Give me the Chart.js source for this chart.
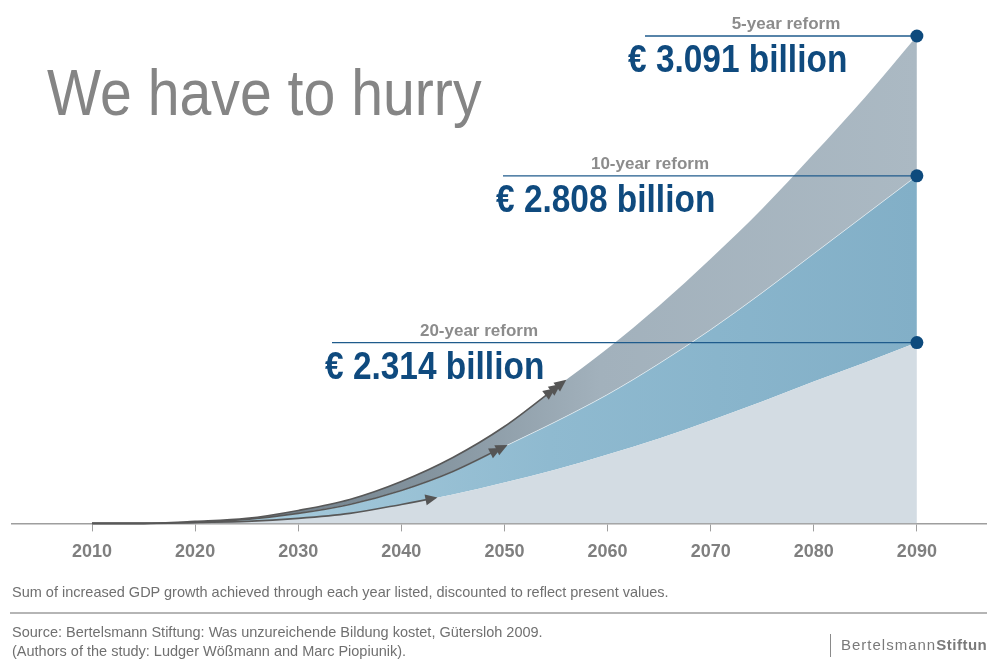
<!DOCTYPE html>
<html>
<head>
<meta charset="utf-8">
<script src="https://cdn.jsdelivr.net/npm/chart.js@4.4.1/dist/chart.umd.min.js"></script>
<style>
  html, body { margin: 0; padding: 0; background: #fff; }
  body { width: 987px; height: 659px; position: relative; overflow: hidden; font-family: "Liberation Sans", Arial, sans-serif; }
  #wrap { position: absolute; left: 0; top: 0; width: 987px; height: 659px; }
  .title { position: absolute; left: 47px; top: 60px; font-size: 65px; line-height: 65px; color: #858585; white-space: nowrap; transform: scaleX(0.88); transform-origin: 0 0; }
  .note { position: absolute; left: 12px; font-size: 14.5px; line-height: 16px; color: #707070; white-space: nowrap; }
  .rule { position: absolute; left: 10px; right: 0; top: 612px; height: 2px; background: #b5b5b5; }
  .logo { position: absolute; left: 830px; top: 634px; height: 23px; border-left: 1.5px solid #8a8a8a; padding-left: 10px; font-size: 15px; line-height: 22px; color: #7a7a7a; letter-spacing: 1px; white-space: nowrap; }
  .logo b { letter-spacing: 0.5px; }
</style>
</head>
<body>
<div id="wrap"><canvas id="gdpChart"></canvas></div>
<div class="title">We have to hurry</div>
<div class="note" style="top:584px">Sum of increased GDP growth achieved through each year listed, discounted to reflect present values.</div>
<div class="rule"></div>
<div class="note" style="top:624px">Source: Bertelsmann Stiftung: Was unzureichende Bildung kostet, Gütersloh 2009.</div>
<div class="note" style="top:643px">(Authors of the study: Ludger Wößmann and Marc Piopiunik).</div>
<div class="logo">Bertelsmann<b>Stiftung</b></div>
<script>
// Data (heights as drawn in the picture, chart units)
const years = [2010, 2015, 2020, 2025, 2030, 2035, 2040, 2045, 2050, 2055, 2060, 2065, 2070, 2075, 2080, 2085, 2090];
const reform20 = [0, 0, 1, 2, 5, 10, 19, 29, 41, 54, 69, 85, 103, 122, 142, 161, 181];
const reform10 = [0, 0, 1, 4, 10, 19, 33, 52, 77, 102, 129, 160, 194, 231, 270, 309, 348];
const reform5 = [0, 0, 2, 5, 13, 24, 42, 66, 97, 136, 175, 218, 265, 315, 370, 427, 488];
const tickYears = [2010, 2020, 2030, 2040, 2050, 2060, 2070, 2080, 2090];

const reformNames = ['20-year reform', '10-year reform', '5-year reform'];
const reformTotals = ['€ 2.314 billion', '€ 2.808 billion', '€ 3.091 billion'];
const arrowYears = [2043.5, 2050.3, 2056];
const arrowCounts = [1, 2, 3];

// label layout (pixels)
const labelLayout = [
    { lineX: 332, valueX: 325, nameX: 479 },
    { lineX: 503, valueX: 496, nameX: 650 },
    { lineX: 645, valueX: 628, nameX: 786 }
];

function bandGradient(stops) {
    return (context) => {
        const chart = context.chart;
        const area = chart.chartArea;
        if (!area) return stops[stops.length - 1][1];
        const g = chart.ctx.createLinearGradient(area.left, 0, area.right, 0);
        const w = area.right - area.left;
        stops.forEach(([px, c]) => g.addColorStop(Math.min(1, Math.max(0, (px - area.left) / w)), c));
        return g;
    };
}

const reformMarks = {
    id: 'reformMarks',
    afterDatasetsDraw(chart) {
        const { ctx, chartArea } = chart;
        const xs = chart.scales.x, ys = chart.scales.y;
        const last = years.length - 1;

        // dark lines with arrows on the early part of each curve
        [0, 1, 2].forEach(i => {
            const line = chart.getDatasetMeta(i).dataset;
            const tipX = xs.getPixelForValue(arrowYears[i]);
            const tip = line.interpolate({ x: tipX }, 'x');
            const back = line.interpolate({ x: tipX - 12 }, 'x');
            if (!tip || !back) return;
            const ang = Math.atan2(tip.y - back.y, tip.x - back.x);
            ctx.save();
            ctx.beginPath();
            ctx.rect(chartArea.left, chartArea.top, tipX - 6 - chartArea.left, chartArea.bottom - chartArea.top + 2);
            ctx.clip();
            ctx.beginPath();
            line.path(ctx);
            ctx.strokeStyle = '#585858';
            ctx.lineWidth = 1.6;
            ctx.stroke();
            ctx.restore();
            ctx.save();
            ctx.fillStyle = '#555555';
            for (let k = 0; k < arrowCounts[i]; k++) {
                const d = k * 7;
                const tx = tip.x - Math.cos(ang) * d, ty = tip.y - Math.sin(ang) * d;
                ctx.save();
                ctx.translate(tx, ty);
                ctx.rotate(ang);
                ctx.beginPath();
                ctx.moveTo(0, 0);
                ctx.lineTo(-12, -5.5);
                ctx.lineTo(-12, 5.5);
                ctx.closePath();
                ctx.fill();
                ctx.restore();
            }
            ctx.restore();
        });

        // end labels, leader lines and dots
        [reform20, reform10, reform5].forEach((vals, i) => {
            const px = xs.getPixelForValue(years[last]);
            const py = ys.getPixelForValue(vals[last]);
            const lay = labelLayout[i];
            ctx.save();
            ctx.strokeStyle = '#1f5b8c';
            ctx.lineWidth = 1.3;
            ctx.beginPath();
            ctx.moveTo(lay.lineX, py);
            ctx.lineTo(px, py);
            ctx.stroke();
            ctx.fillStyle = '#0d4a7d';
            ctx.beginPath();
            ctx.arc(px, py, 6.5, 0, Math.PI * 2);
            ctx.fill();
            ctx.textBaseline = 'alphabetic';
            ctx.font = 'bold 17px "Liberation Sans", Arial, sans-serif';
            ctx.fillStyle = '#8c8c8c';
            ctx.textAlign = 'center';
            ctx.fillText(reformNames[i], lay.nameX, py - 7);
            ctx.font = 'bold 38px "Liberation Sans", Arial, sans-serif';
            ctx.fillStyle = '#0f4a7e';
            ctx.textAlign = 'left';
            ctx.translate(lay.valueX, py + 36);
            ctx.scale(0.88, 1);
            ctx.fillText(reformTotals[i], 0, 0);
            ctx.restore();
        });
    }
};

const ctx = document.getElementById('gdpChart').getContext('2d');
const gdpChart = new Chart(ctx, {
    type: 'line',
    data: {
        datasets: [{
            label: '20-year reform',
            data: years.map((yr, i) => ({ x: yr, y: reform20[i] })),
            fill: 'origin',
            backgroundColor: '#d3dce3',
            borderWidth: 0,
            pointRadius: 0,
            cubicInterpolationMode: 'monotone'
        }, {
            label: '10-year reform',
            data: years.map((yr, i) => ({ x: yr, y: reform10[i] })),
            fill: '-1',
            backgroundColor: bandGradient([[250, '#a6cadb'], [550, '#8fbad0'], [917, '#82afc7']]),
            borderColor: 'rgba(255,255,255,0.55)',
            borderWidth: 1,
            pointRadius: 0,
            cubicInterpolationMode: 'monotone'
        }, {
            label: '5-year reform',
            data: years.map((yr, i) => ({ x: yr, y: reform5[i] })),
            fill: '-1',
            backgroundColor: bandGradient([[250, '#6f7e89'], [430, '#84949f'], [600, '#a2b1bc'], [917, '#abb9c3']]),
            borderWidth: 0,
            pointRadius: 0,
            cubicInterpolationMode: 'monotone'
        }]
    },
    options: {
        responsive: true,
        maintainAspectRatio: false,
        animation: false,
        layout: {
            padding: { left: 12, right: 0, top: 24, bottom: 86 }
        },
        plugins: {
            legend: { display: false },
            tooltip: { enabled: false }
        },
        scales: {
            x: {
                type: 'linear',
                min: 2002.24,
                max: 2096.8,
                afterBuildTicks: (axis) => { axis.ticks = tickYears.map(v => ({ value: v })); },
                grid: {
                    drawOnChartArea: false,
                    drawTicks: true,
                    tickLength: 8,
                    color: '#9e9e9e',
                    tickWidth: 1
                },
                border: { display: true, color: '#9e9e9e', width: 1.5 },
                ticks: {
                    padding: 10,
                    color: '#7f7f7f',
                    font: { family: '"Liberation Sans", Arial, sans-serif', size: 18, weight: 'bold' },
                    callback: (v) => String(v),
                    maxRotation: 0,
                    autoSkip: false
                }
            },
            y: {
                display: false,
                min: 0,
                max: 500
            }
        }
    },
    plugins: [reformMarks]
});
</script>
</body>
</html>
